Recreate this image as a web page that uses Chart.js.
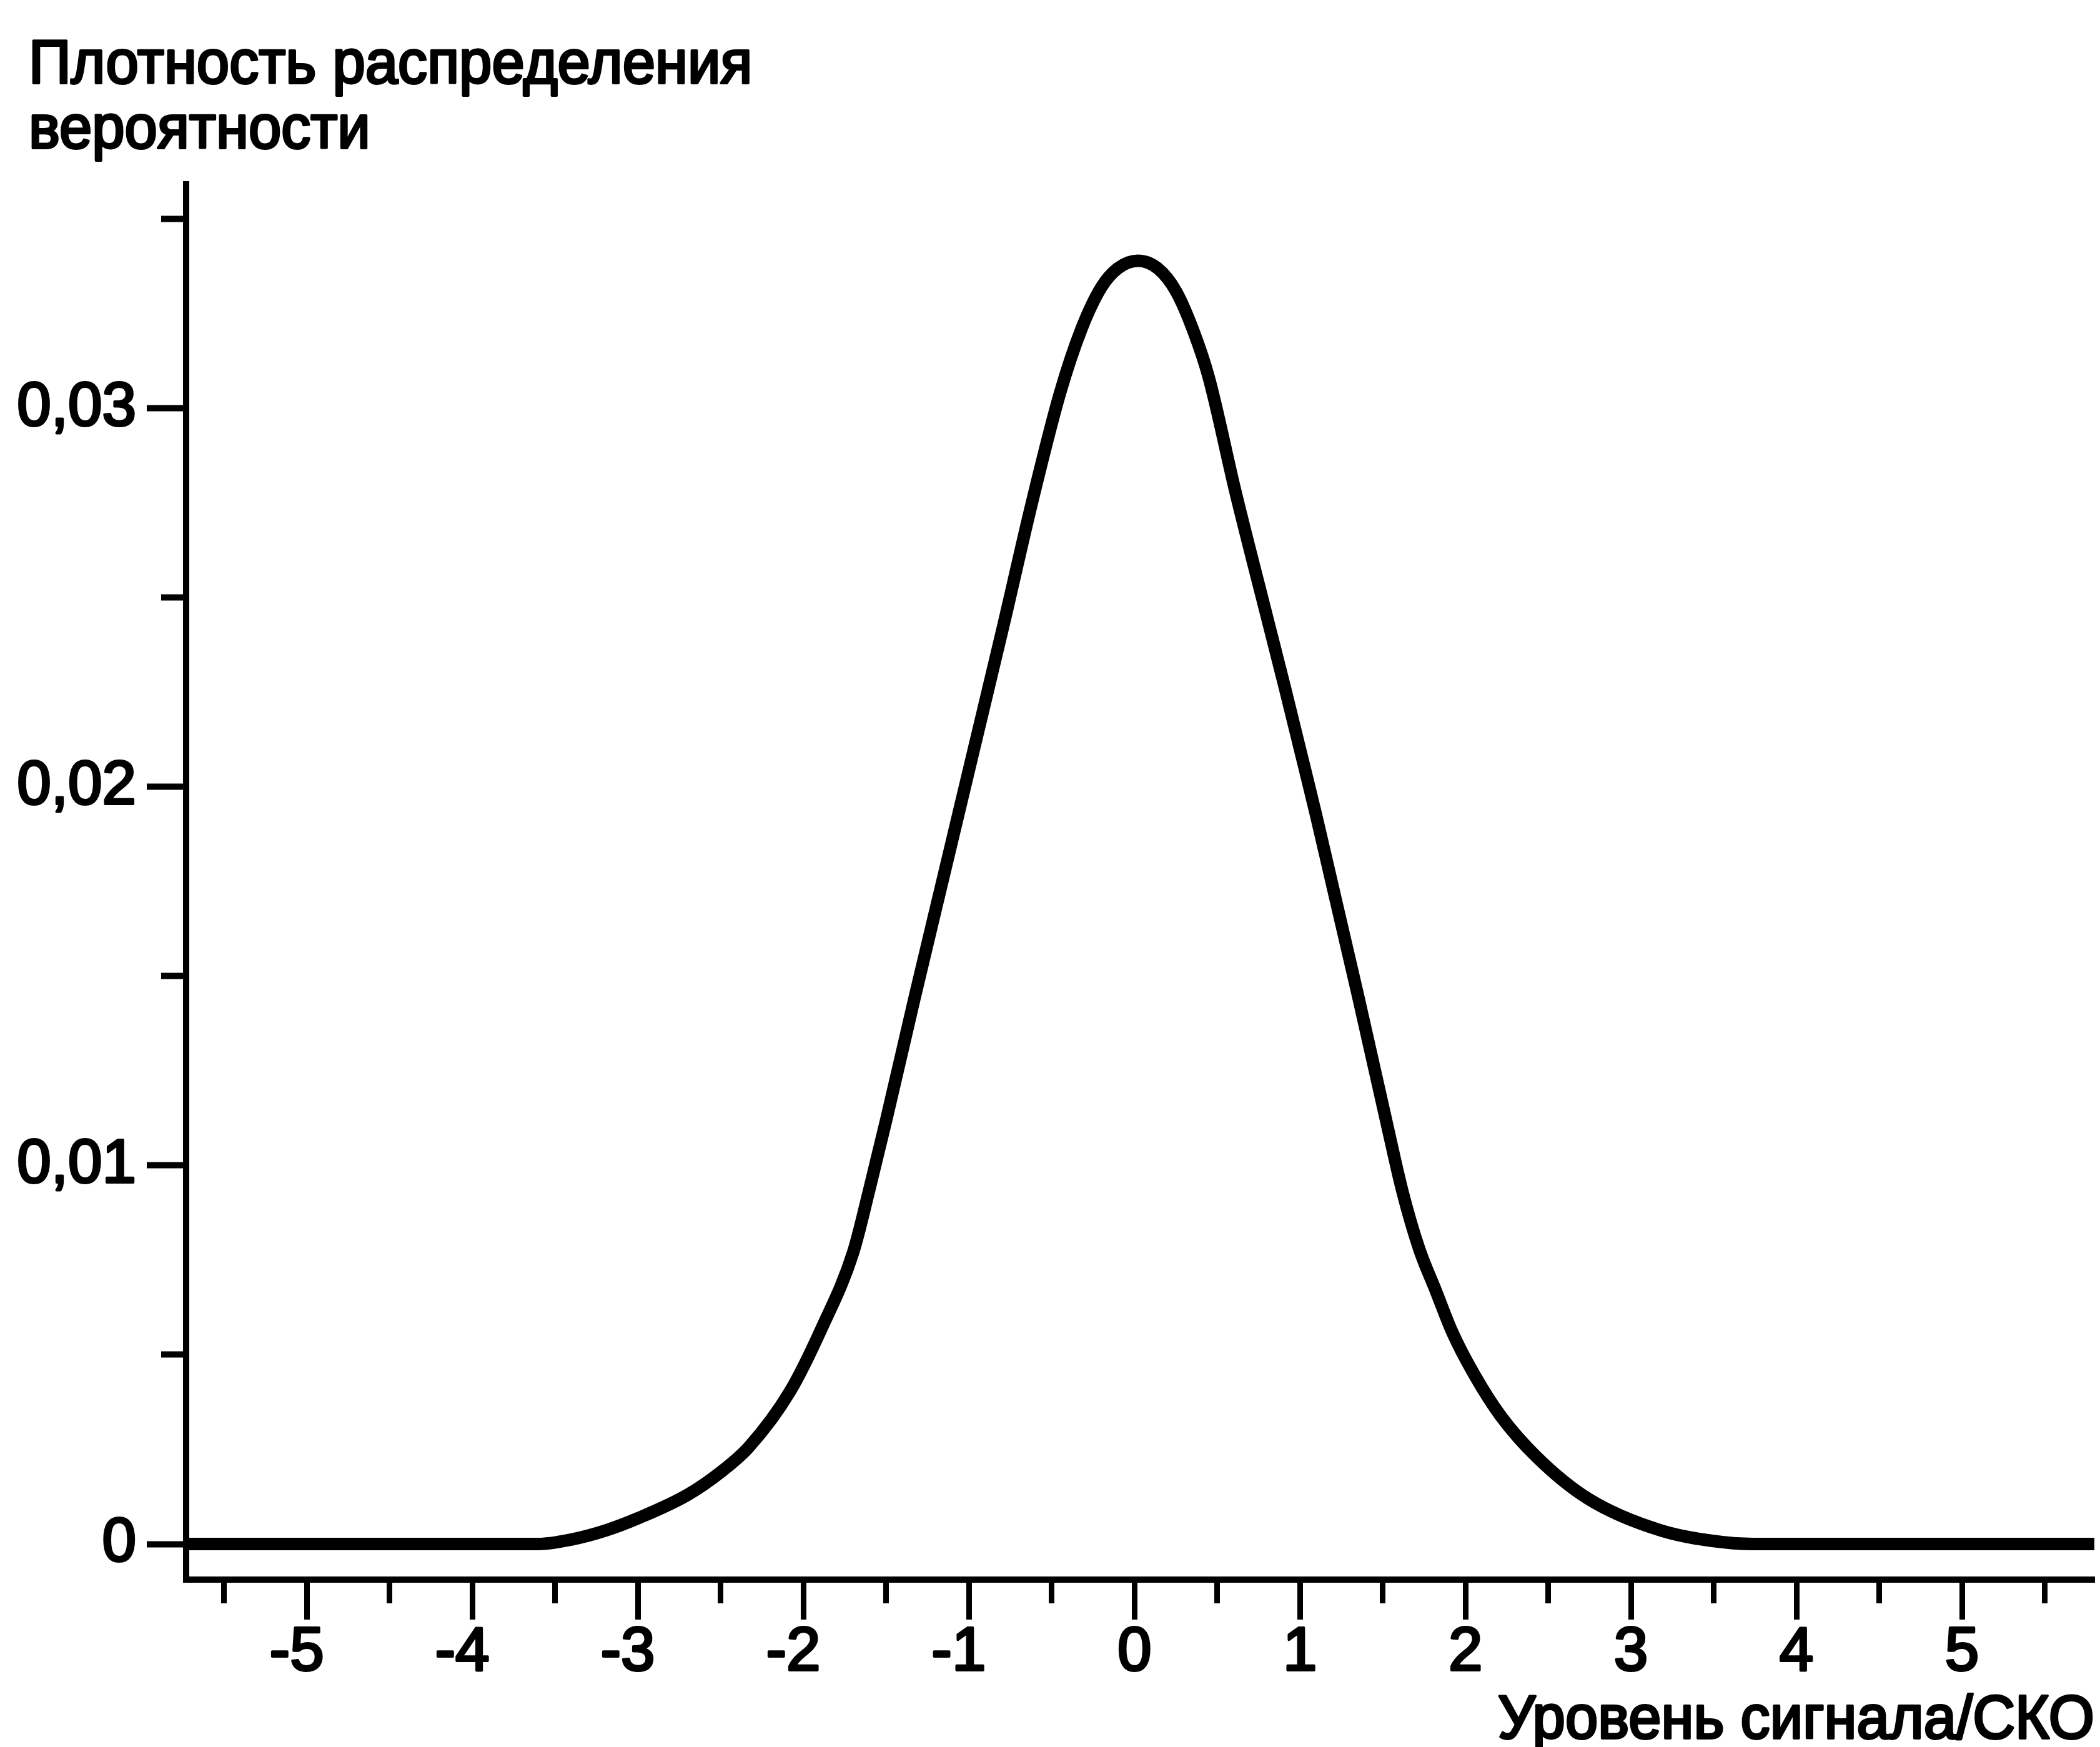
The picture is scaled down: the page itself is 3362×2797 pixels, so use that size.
<!DOCTYPE html>
<html lang="ru">
<head>
<meta charset="utf-8">
<title>Плотность распределения вероятности</title>
<script src="https://cdn.jsdelivr.net/npm/chart.js@4.4.1/dist/chart.umd.min.js"></script>
<style>
  html, body { margin: 0; padding: 0; background: #fff; }
  canvas { display: block; }
</style>
</head>
<body>
<canvas id="densityChart" width="3362" height="2797"></canvas>
<script>
// values
const signalLevels = [-5.73, -4.5, -3.75, -3.6, -3.4, -3.2, -3.0, -2.7, -2.5, -2.33, -2.08, -1.89, -1.7, -1.6, -1.5,
  -1.33, -1.15, -0.97, -0.79, -0.62, -0.45, -0.32, -0.2, -0.1, 0.02, 0.14, 0.25, 0.36, 0.45,
  0.61, 0.8, 0.91, 1.0, 1.095, 1.18, 1.265, 1.35, 1.52, 1.62, 1.72, 1.82, 1.92, 2.05, 2.21, 2.43,
  2.74, 3.18, 3.6, 3.8, 4.5, 5.8];
const densityValues = [0, 0, 0, 0, 0.00012, 0.00035, 0.00068, 0.0013, 0.0019, 0.00256, 0.00404, 0.0057, 0.0077, 0.0094, 0.0112,
  0.0144, 0.0177, 0.021, 0.0243, 0.0275, 0.0304, 0.0321, 0.0332, 0.0337, 0.0339, 0.0337, 0.0331, 0.032, 0.0308,
  0.0278, 0.0245, 0.0226, 0.021, 0.0193, 0.0177, 0.0161, 0.0145, 0.0112, 0.0093, 0.0078, 0.0067, 0.0056, 0.0045, 0.0034, 0.0023,
  0.0012, 0.00036, 0.00003, 0, 0, 0];

const xTickLabels = ["-5", "-4", "-3", "-2", "-1", "0", "1", "2", "3", "4", "5"];
const yTickLabels = ["0", "0,01", "0,02", "0,03"];
const yAxisTitle = ["Плотность распределения", "вероятности"];
const xAxisTitle = "Уровень сигнала/СКО";

const FONT_FAMILY = '"Liberation Sans", Arial, Helvetica, sans-serif';
const FONT_SIZE = 98;
const TEXT_STROKE = 4; // the scanned text is a bit heavier than plain Arial
const CAPTION_SQUEEZE = 0.96;

Chart.defaults.font.family = FONT_FAMILY;
Chart.defaults.font.size = FONT_SIZE;
Chart.defaults.color = "#000";

// round joins for the thickened tick labels
const roundTextJoins = {
  id: "roundTextJoins",
  beforeDraw(chart) {
    chart.ctx.lineJoin = "round";
  },
};

// draws the two axis captions, slightly condensed like the original
const axisCaptions = {
  id: "axisCaptions",
  afterDraw(chart) {
    const { ctx, chartArea } = chart;
    ctx.save();
    ctx.fillStyle = "#000";
    ctx.strokeStyle = "#000";
    ctx.lineWidth = TEXT_STROKE;
    ctx.lineJoin = "round";
    ctx.font = FONT_SIZE + "px " + FONT_FAMILY;
    ctx.textBaseline = "alphabetic";

    ctx.save();
    ctx.translate(46, 0);
    ctx.scale(CAPTION_SQUEEZE, 1);
    ctx.textAlign = "left";
    yAxisTitle.forEach((line, i) => {
      ctx.strokeText(line, 0, 133 + i * 104);
      ctx.fillText(line, 0, 133 + i * 104);
    });
    ctx.restore();

    ctx.save();
    ctx.translate(chartArea.right, 0);
    ctx.scale(CAPTION_SQUEEZE, 1);
    ctx.textAlign = "right";
    ctx.strokeText(xAxisTitle, 0, 2783);
    ctx.fillText(xAxisTitle, 0, 2783);
    ctx.restore();

    ctx.restore();
  },
};

const points = signalLevels.map((x, i) => ({ x: x, y: densityValues[i] }));

const ctx = document.getElementById("densityChart").getContext("2d");
new Chart(ctx, {
  type: "line",
  data: {
    datasets: [
      {
        data: points,
        borderColor: "#000",
        borderWidth: 20,
        pointRadius: 0,
        fill: false,
        cubicInterpolationMode: "monotone",
      },
    ],
  },
  options: {
    responsive: false,
    animation: false,
    devicePixelRatio: 1,
    layout: {
      autoPadding: false,
      padding: { top: 295, right: 9, bottom: 0, left: 0 },
    },
    plugins: {
      legend: { display: false },
      tooltip: { enabled: false },
    },
    scales: {
      x: {
        type: "linear",
        min: -5.73,
        max: 5.8,
        afterFit: (scale) => {
          scale.height = 268;
        },
        border: { display: true, color: "#000", width: 10 },
        grid: {
          drawOnChartArea: false,
          tickLength: 64,
          tickWidth: 9,
          tickColor: "#000",
          // half steps get a short tick
          tickBorderDash: (c) => (Number.isInteger(c.tick.value) ? [] : [33, 1000]),
        },
        ticks: {
          stepSize: 0.5,
          includeBounds: false,
          autoSkip: false,
          maxRotation: 0,
          padding: 5,
          textStrokeColor: "#000",
          textStrokeWidth: TEXT_STROKE,
          font: { size: FONT_SIZE, lineHeight: 1 },
          callback: (v) => {
            if (!Number.isInteger(v)) return "";
            const label = xTickLabels[v + 5];
            return v < 0 ? label + "\u2004" : label;
          },
        },
      },
      y: {
        min: -0.00094,
        max: 0.03592,
        afterFit: (scale) => {
          scale.width = 298;
        },
        border: { display: true, color: "#000", width: 10 },
        grid: {
          drawOnChartArea: false,
          tickLength: 63,
          tickWidth: 10,
          tickColor: "#000",
          tickBorderDash: (c) => {
            const k = Math.round(c.tick.value * 1000);
            return k % 10 === 0 ? [] : [0, 23, 35, 1000];
          },
        },
        ticks: {
          stepSize: 0.005,
          includeBounds: false,
          autoSkip: false,
          padding: 17,
          textStrokeColor: "#000",
          textStrokeWidth: TEXT_STROKE,
          font: { size: FONT_SIZE, lineHeight: 1 },
          callback: (v) => {
            const k = Math.round(v * 1000);
            return k % 10 === 0 ? yTickLabels[k / 10] : "";
          },
        },
      },
    },
  },
  plugins: [roundTextJoins, axisCaptions],
});
</script>
</body>
</html>
